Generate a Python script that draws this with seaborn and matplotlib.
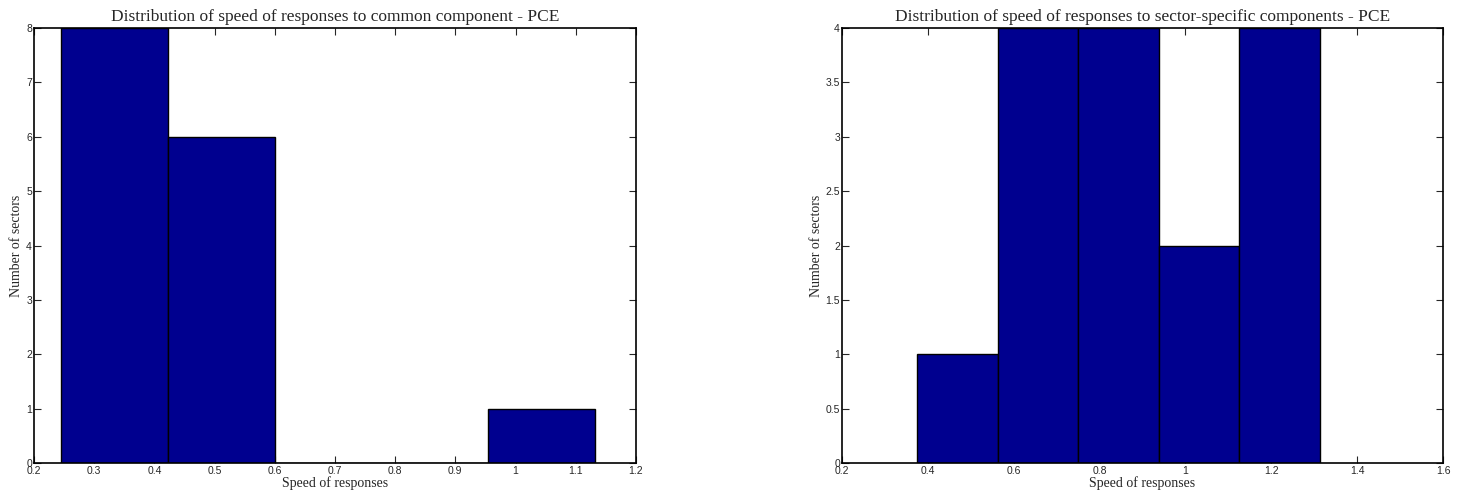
import numpy as np
import pandas as pd
import matplotlib
matplotlib.use("Agg")
import matplotlib.pyplot as plt
import seaborn as sns

# Histogram bins
common_edges = [0.245, 0.4225, 0.600, 0.7775, 0.955, 1.1325]
common_counts = [8, 6, 0, 0, 1]

specific_edges = [0.375, 0.5625, 0.750, 0.9375, 1.125, 1.3125]
specific_counts = [1, 4, 4, 2, 4]

common_xticks = [0.2, 0.3, 0.4, 0.5, 0.6, 0.7, 0.8, 0.9, 1.0, 1.1, 1.2]
common_yticks = [0, 1, 2, 3, 4, 5, 6, 7, 8]
specific_xticks = [0.2, 0.4, 0.6, 0.8, 1.0, 1.2, 1.4, 1.6]
specific_yticks = [0, 0.5, 1, 1.5, 2, 2.5, 3, 3.5, 4]

sns.set_style("ticks")
plt.rcParams['font.family'] = ['Liberation Sans', 'DejaVu Sans']

bar_color = '#00008F'
serif = ['Liberation Serif', 'DejaVu Serif']

fig = plt.figure(figsize=(14.68, 4.99), dpi=100)
ax1 = fig.add_axes([0.0232, 0.0721, 0.410, 0.8717])
ax2 = fig.add_axes([0.5736, 0.0721, 0.4094, 0.8717])


def draw(ax, edges, counts, xticks, yticks, title):
    e = np.array(edges)
    df = pd.DataFrame({'speed': (e[:-1] + e[1:]) / 2, 'count': counts})
    sns.histplot(data=df, x='speed', weights='count', bins=list(edges), ax=ax,
                 color=bar_color, alpha=1, edgecolor='black', linewidth=1.0)
    ax.set_xlim(xticks[0], xticks[-1])
    ax.set_ylim(yticks[0], yticks[-1])
    ax.set_xticks(xticks)
    ax.set_yticks(yticks)
    ax.set_xticklabels([f'{v:g}' for v in xticks], fontsize=7.5)
    ax.set_yticklabels([f'{v:g}' for v in yticks], fontsize=7.5)
    ax.tick_params(direction='in', length=5, width=0.8, top=True, right=True)
    ax.tick_params(axis='x', pad=2)
    ax.tick_params(axis='y', pad=1.5)
    for sp in ax.spines.values():
        sp.set_visible(True)
        sp.set_linewidth(1.2)
        sp.set_color('black')
    ax.set_title(title, fontsize=12.5, family=serif, pad=5)
    ax.set_xlabel('Speed of responses', fontsize=10, family=serif, labelpad=0)
    ax.set_ylabel('Number of sectors', fontsize=10, family=serif, labelpad=2)
    ax.grid(False)


draw(ax1, common_edges, common_counts, common_xticks, common_yticks,
     'Distribution of speed of responses to common component - PCE')
draw(ax2, specific_edges, specific_counts, specific_xticks, specific_yticks,
     'Distribution of speed of responses to sector-specific components - PCE')

plt.savefig('out.png', dpi=100)
plt.close()
